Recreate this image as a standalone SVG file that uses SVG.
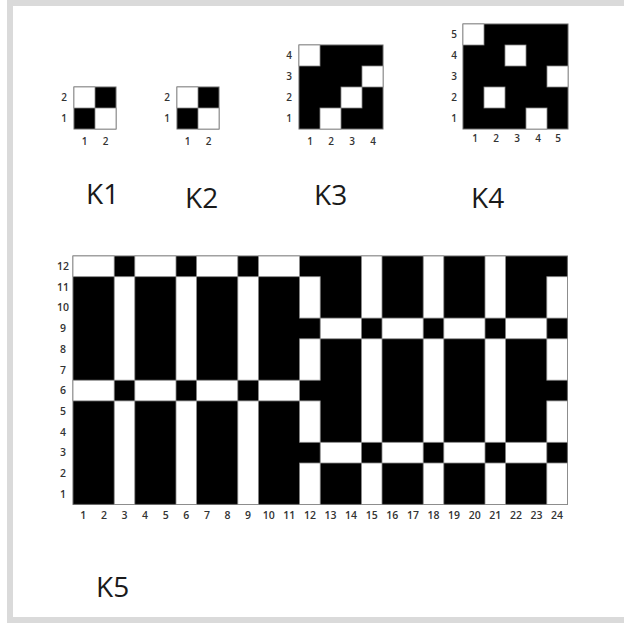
<svg xmlns="http://www.w3.org/2000/svg" width="624" height="623" viewBox="0 0 624 623">
<style>
.b{fill:#000;stroke:#666;stroke-width:1}
.w{fill:#fff;stroke:#888;stroke-width:0.8}
.n{font-family:"Open Sans","DejaVu Sans",sans-serif;font-size:10px;font-weight:600;fill:#333;text-anchor:middle}
.m{font-family:"Open Sans","DejaVu Sans",sans-serif;font-size:10.5px;font-weight:600;fill:#333;text-anchor:middle}
.t{font-family:"Open Sans","Noto Sans",sans-serif;font-size:28px;fill:#1a1a1a}
</style>
<rect x="0" y="0" width="624" height="623" fill="#fff"/>
<rect x="7" y="0" width="617" height="6" fill="#dadada"/>
<rect x="7" y="0" width="6" height="623" fill="#dadada"/>
<rect x="7" y="617" width="617" height="6" fill="#dadada"/>
<rect x="13" y="6" width="611" height="611" fill="#fff"/>

<g id="K1">
<rect class="b" x="74" y="87" width="42" height="42"/>
<rect class="w" x="74" y="87" width="21" height="21"/>
<rect class="w" x="95" y="108" width="21" height="21"/>
<text class="n" x="64" y="101">2</text>
<text class="n" x="64" y="122">1</text>
<text class="n" x="84.5" y="144.5">1</text>
<text class="n" x="105.5" y="144.5">2</text>
<text class="t" x="86" y="204">K1</text>
</g>

<g id="K2">
<rect class="b" x="177" y="87" width="42" height="42"/>
<rect class="w" x="177" y="87" width="21" height="21"/>
<rect class="w" x="198" y="108" width="21" height="21"/>
<text class="n" x="167" y="101">2</text>
<text class="n" x="167" y="122">1</text>
<text class="n" x="187.5" y="144.5">1</text>
<text class="n" x="208.5" y="144.5">2</text>
<text class="t" x="185" y="208">K2</text>
</g>

<g id="K3">
<rect class="b" x="299" y="45" width="84" height="84"/>
<rect class="w" x="299" y="45" width="21" height="21"/>
<rect class="w" x="362" y="66" width="21" height="21"/>
<rect class="w" x="341" y="87" width="21" height="21"/>
<rect class="w" x="320" y="108" width="21" height="21"/>
<text class="n" x="289" y="59">4</text>
<text class="n" x="289" y="80">3</text>
<text class="n" x="289" y="101">2</text>
<text class="n" x="289" y="122">1</text>
<text class="n" x="310" y="144.5">1</text>
<text class="n" x="331" y="144.5">2</text>
<text class="n" x="352" y="144.5">3</text>
<text class="n" x="373" y="144.5">4</text>
<text class="t" x="314" y="205">K3</text>
</g>

<g id="K4">
<rect class="b" x="463" y="24" width="105" height="105"/>
<rect class="w" x="463" y="24" width="21" height="21"/>
<rect class="w" x="505" y="45" width="21" height="21"/>
<rect class="w" x="547" y="66" width="21" height="21"/>
<rect class="w" x="484" y="87" width="21" height="21"/>
<rect class="w" x="526" y="108" width="21" height="21"/>
<text class="n" x="454" y="38">5</text>
<text class="n" x="454" y="59">4</text>
<text class="n" x="454" y="80">3</text>
<text class="n" x="454" y="101">2</text>
<text class="n" x="454" y="122">1</text>
<text class="n" x="475" y="142">1</text>
<text class="n" x="496" y="142">2</text>
<text class="n" x="517" y="142">3</text>
<text class="n" x="538" y="142">4</text>
<text class="n" x="558" y="142">5</text>
<text class="t" x="471" y="208">K4</text>
</g>

<g id="K5">
<rect class="b" x="73" y="256" width="494.4" height="248.4"/>
<!-- rows 12 and 6, left part -->
<rect class="w" x="73" y="256" width="41.2" height="20.7"/>
<rect class="w" x="134.8" y="256" width="41.2" height="20.7"/>
<rect class="w" x="196.6" y="256" width="41.2" height="20.7"/>
<rect class="w" x="258.4" y="256" width="41.2" height="20.7"/>
<rect class="w" x="73" y="380.2" width="41.2" height="20.7"/>
<rect class="w" x="134.8" y="380.2" width="41.2" height="20.7"/>
<rect class="w" x="196.6" y="380.2" width="41.2" height="20.7"/>
<rect class="w" x="258.4" y="380.2" width="41.2" height="20.7"/>
<!-- cols 3, 6, 9 -->
<rect class="w" x="114.2" y="276.7" width="20.6" height="103.5"/>
<rect class="w" x="176" y="276.7" width="20.6" height="103.5"/>
<rect class="w" x="237.8" y="276.7" width="20.6" height="103.5"/>
<rect class="w" x="114.2" y="400.9" width="20.6" height="103.5"/>
<rect class="w" x="176" y="400.9" width="20.6" height="103.5"/>
<rect class="w" x="237.8" y="400.9" width="20.6" height="103.5"/>
<!-- cols 12 and 24 -->
<rect class="w" x="299.6" y="276.7" width="20.6" height="41.4"/>
<rect class="w" x="299.6" y="338.8" width="20.6" height="41.4"/>
<rect class="w" x="299.6" y="400.9" width="20.6" height="41.4"/>
<rect class="w" x="299.6" y="463" width="20.6" height="41.4"/>
<rect class="w" x="546.8" y="276.7" width="20.6" height="41.4"/>
<rect class="w" x="546.8" y="338.8" width="20.6" height="41.4"/>
<rect class="w" x="546.8" y="400.9" width="20.6" height="41.4"/>
<rect class="w" x="546.8" y="463" width="20.6" height="41.4"/>
<!-- cols 15, 18, 21 -->
<rect class="w" x="361.4" y="256" width="20.6" height="62.1"/>
<rect class="w" x="361.4" y="338.8" width="20.6" height="103.5"/>
<rect class="w" x="361.4" y="463" width="20.6" height="41.4"/>
<rect class="w" x="423.2" y="256" width="20.6" height="62.1"/>
<rect class="w" x="423.2" y="338.8" width="20.6" height="103.5"/>
<rect class="w" x="423.2" y="463" width="20.6" height="41.4"/>
<rect class="w" x="485" y="256" width="20.6" height="62.1"/>
<rect class="w" x="485" y="338.8" width="20.6" height="103.5"/>
<rect class="w" x="485" y="463" width="20.6" height="41.4"/>
<!-- rows 9 and 3, right part -->
<rect class="w" x="320.2" y="318.1" width="41.2" height="20.7"/>
<rect class="w" x="382" y="318.1" width="41.2" height="20.7"/>
<rect class="w" x="443.8" y="318.1" width="41.2" height="20.7"/>
<rect class="w" x="505.6" y="318.1" width="41.2" height="20.7"/>
<rect class="w" x="320.2" y="442.3" width="41.2" height="20.7"/>
<rect class="w" x="382" y="442.3" width="41.2" height="20.7"/>
<rect class="w" x="443.8" y="442.3" width="41.2" height="20.7"/>
<rect class="w" x="505.6" y="442.3" width="41.2" height="20.7"/>
<!-- y labels -->
<text class="m" x="63" y="270">12</text>
<text class="m" x="63" y="290.7">11</text>
<text class="m" x="63" y="311.4">10</text>
<text class="m" x="63" y="332.1">9</text>
<text class="m" x="63" y="352.8">8</text>
<text class="m" x="63" y="373.5">7</text>
<text class="m" x="63" y="394.2">6</text>
<text class="m" x="63" y="414.9">5</text>
<text class="m" x="63" y="435.6">4</text>
<text class="m" x="63" y="456.3">3</text>
<text class="m" x="63" y="477">2</text>
<text class="m" x="63" y="497.7">1</text>
<!-- x labels -->
<text class="m" x="83.3" y="519">1</text>
<text class="m" x="103.9" y="519">2</text>
<text class="m" x="124.5" y="519">3</text>
<text class="m" x="145.1" y="519">4</text>
<text class="m" x="165.7" y="519">5</text>
<text class="m" x="186.3" y="519">6</text>
<text class="m" x="206.9" y="519">7</text>
<text class="m" x="227.5" y="519">8</text>
<text class="m" x="248.1" y="519">9</text>
<text class="m" x="268.7" y="519">10</text>
<text class="m" x="289.3" y="519">11</text>
<text class="m" x="309.9" y="519">12</text>
<text class="m" x="330.5" y="519">13</text>
<text class="m" x="351.1" y="519">14</text>
<text class="m" x="371.7" y="519">15</text>
<text class="m" x="392.3" y="519">16</text>
<text class="m" x="412.9" y="519">17</text>
<text class="m" x="433.5" y="519">18</text>
<text class="m" x="454.1" y="519">19</text>
<text class="m" x="474.7" y="519">20</text>
<text class="m" x="495.3" y="519">21</text>
<text class="m" x="515.9" y="519">22</text>
<text class="m" x="536.5" y="519">23</text>
<text class="m" x="557.1" y="519">24</text>
<text class="t" x="96" y="597">K5</text>
</g>
</svg>
